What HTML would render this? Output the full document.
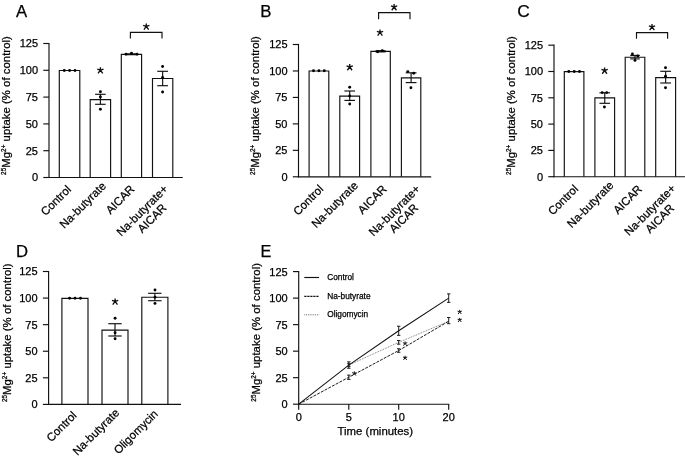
<!DOCTYPE html>
<html><head><meta charset="utf-8"><title>Figure</title>
<style>
html,body{margin:0;padding:0;background:#fff;}
body{width:685px;height:460px;overflow:hidden;}
svg{display:block;font-family:"Liberation Sans", sans-serif;fill:#000;will-change:transform;transform:translateZ(0);}
text{stroke:#000;stroke-width:0.25px;}
</style></head><body>
<svg width="685" height="460" viewBox="0 0 685 460">
<rect x="0" y="0" width="685" height="460" fill="#fff"/>
<text x="15.90" y="16.90" font-size="16.7" text-anchor="start" >A</text>
<text x="10.00" y="105.50" font-size="11.3" letter-spacing="0.05" text-anchor="middle" transform="rotate(-90 10.00 105.50)"><tspan font-size="6.33" dy="-4.07">25</tspan><tspan dy="4.07">Mg</tspan><tspan font-size="6.33" dy="-4.07">2+</tspan><tspan dy="4.07"> uptake (% of control)</tspan></text>
<path d="M59.30 177.50V70.50H79.80V177.50" fill="#fff" stroke="#111" stroke-width="1.15"/>
<path d="M90.20 177.50V99.60H110.60V177.50" fill="#fff" stroke="#111" stroke-width="1.15"/>
<path d="M121.30 177.50V54.30H141.60V177.50" fill="#fff" stroke="#111" stroke-width="1.15"/>
<path d="M152.50 177.50V78.50H172.80V177.50" fill="#fff" stroke="#111" stroke-width="1.15"/>
<line x1="49.00" y1="42.92" x2="49.00" y2="178.07" stroke="#111" stroke-width="1.15" />
<line x1="43.30" y1="177.50" x2="49.00" y2="177.50" stroke="#111" stroke-width="1.15" />
<text x="38.00" y="181.46" font-size="11" text-anchor="end" >0</text>
<line x1="43.30" y1="150.70" x2="49.00" y2="150.70" stroke="#111" stroke-width="1.15" />
<text x="38.00" y="154.66" font-size="11" text-anchor="end" >25</text>
<line x1="43.30" y1="123.90" x2="49.00" y2="123.90" stroke="#111" stroke-width="1.15" />
<text x="38.00" y="127.86" font-size="11" text-anchor="end" >50</text>
<line x1="43.30" y1="97.10" x2="49.00" y2="97.10" stroke="#111" stroke-width="1.15" />
<text x="38.00" y="101.06" font-size="11" text-anchor="end" >75</text>
<line x1="43.30" y1="70.30" x2="49.00" y2="70.30" stroke="#111" stroke-width="1.15" />
<text x="38.00" y="74.26" font-size="11" text-anchor="end" >100</text>
<line x1="43.30" y1="43.50" x2="49.00" y2="43.50" stroke="#111" stroke-width="1.15" />
<text x="38.00" y="47.46" font-size="11" text-anchor="end" >125</text>
<line x1="48.42" y1="177.50" x2="182.75" y2="177.50" stroke="#111" stroke-width="1.15" />
<circle cx="64.30" cy="70.50" r="1.45" fill="#000"/>
<circle cx="69.60" cy="70.50" r="1.45" fill="#000"/>
<circle cx="75.00" cy="70.50" r="1.45" fill="#000"/>
<line x1="100.40" y1="94.30" x2="100.40" y2="104.30" stroke="#111" stroke-width="1.15" />
<line x1="95.10" y1="94.30" x2="105.70" y2="94.30" stroke="#111" stroke-width="1.15" />
<line x1="95.10" y1="104.30" x2="105.70" y2="104.30" stroke="#111" stroke-width="1.15" />
<circle cx="100.40" cy="91.70" r="1.45" fill="#000"/>
<circle cx="100.40" cy="97.00" r="1.45" fill="#000"/>
<circle cx="100.40" cy="109.30" r="1.45" fill="#000"/>
<line x1="126.95" y1="53.90" x2="135.95" y2="53.90" stroke="#111" stroke-width="1.15" />
<line x1="126.95" y1="54.70" x2="135.95" y2="54.70" stroke="#111" stroke-width="1.15" />
<circle cx="126.00" cy="54.20" r="1.45" fill="#000"/>
<circle cx="131.50" cy="53.20" r="1.45" fill="#000"/>
<circle cx="137.00" cy="54.20" r="1.45" fill="#000"/>
<line x1="162.65" y1="71.30" x2="162.65" y2="85.70" stroke="#111" stroke-width="1.15" />
<line x1="157.25" y1="71.30" x2="168.05" y2="71.30" stroke="#111" stroke-width="1.15" />
<line x1="157.25" y1="85.70" x2="168.05" y2="85.70" stroke="#111" stroke-width="1.15" />
<circle cx="162.60" cy="66.50" r="1.45" fill="#000"/>
<circle cx="162.60" cy="77.50" r="1.45" fill="#000"/>
<circle cx="162.60" cy="92.00" r="1.45" fill="#000"/>
<text x="71.75" y="190.10" font-size="11.5" text-anchor="end" transform="rotate(-45 71.75 190.10)" >Control</text>
<text x="106.80" y="186.60" font-size="11.5" text-anchor="end" transform="rotate(-45 106.80 186.60)" >Na-butyrate</text>
<text x="135.25" y="189.80" font-size="11.5" text-anchor="end" transform="rotate(-45 135.25 189.80)" >AICAR</text>
<text x="168.55" y="189.60" font-size="11.5" text-anchor="end" transform="rotate(-45 168.55 189.60)" >Na-butyrate+</text>
<text x="154.80" y="221.00" font-size="11.5" text-anchor="middle" transform="rotate(-45 154.80 221.00)" >AICAR</text>
<path d="M100.40 70.20L100.40 67.30M100.40 70.20L103.54 69.18M100.40 70.20L97.26 69.18M100.40 70.20L102.75 73.44M100.40 70.20L98.05 73.44" stroke="#111" stroke-width="1.35" fill="none"/>
<polyline points="130.40,38.60 130.40,32.40 162.00,32.40 162.00,38.60" fill="none" stroke="#111" stroke-width="1.15"/>
<path d="M146.30 26.30L146.30 23.40M146.30 26.30L149.44 25.28M146.30 26.30L143.16 25.28M146.30 26.30L148.65 29.54M146.30 26.30L143.95 29.54" stroke="#111" stroke-width="1.35" fill="none"/>
<text x="260.20" y="16.90" font-size="16.8" text-anchor="start" >B</text>
<text x="259.20" y="105.50" font-size="11.3" letter-spacing="0.05" text-anchor="middle" transform="rotate(-90 259.20 105.50)"><tspan font-size="6.33" dy="-4.07">25</tspan><tspan dy="4.07">Mg</tspan><tspan font-size="6.33" dy="-4.07">2+</tspan><tspan dy="4.07"> uptake (% of control)</tspan></text>
<path d="M309.10 176.80V71.00H328.80V176.80" fill="#fff" stroke="#111" stroke-width="1.15"/>
<path d="M339.80 176.80V96.10H359.60V176.80" fill="#fff" stroke="#111" stroke-width="1.15"/>
<path d="M370.90 176.80V51.30H390.30V176.80" fill="#fff" stroke="#111" stroke-width="1.15"/>
<path d="M401.40 176.80V77.80H420.80V176.80" fill="#fff" stroke="#111" stroke-width="1.15"/>
<line x1="298.50" y1="43.92" x2="298.50" y2="177.38" stroke="#111" stroke-width="1.15" />
<line x1="292.80" y1="176.80" x2="298.50" y2="176.80" stroke="#111" stroke-width="1.15" />
<text x="287.50" y="180.76" font-size="11" text-anchor="end" >0</text>
<line x1="292.80" y1="150.34" x2="298.50" y2="150.34" stroke="#111" stroke-width="1.15" />
<text x="287.50" y="154.30" font-size="11" text-anchor="end" >25</text>
<line x1="292.80" y1="123.88" x2="298.50" y2="123.88" stroke="#111" stroke-width="1.15" />
<text x="287.50" y="127.84" font-size="11" text-anchor="end" >50</text>
<line x1="292.80" y1="97.42" x2="298.50" y2="97.42" stroke="#111" stroke-width="1.15" />
<text x="287.50" y="101.38" font-size="11" text-anchor="end" >75</text>
<line x1="292.80" y1="70.96" x2="298.50" y2="70.96" stroke="#111" stroke-width="1.15" />
<text x="287.50" y="74.92" font-size="11" text-anchor="end" >100</text>
<line x1="292.80" y1="44.50" x2="298.50" y2="44.50" stroke="#111" stroke-width="1.15" />
<text x="287.50" y="48.46" font-size="11" text-anchor="end" >125</text>
<line x1="297.93" y1="176.80" x2="431.20" y2="176.80" stroke="#111" stroke-width="1.15" />
<circle cx="313.50" cy="70.80" r="1.45" fill="#000"/>
<circle cx="318.90" cy="70.80" r="1.45" fill="#000"/>
<circle cx="324.30" cy="70.80" r="1.45" fill="#000"/>
<line x1="349.70" y1="91.00" x2="349.70" y2="100.40" stroke="#111" stroke-width="1.15" />
<line x1="344.40" y1="91.00" x2="355.00" y2="91.00" stroke="#111" stroke-width="1.15" />
<line x1="344.40" y1="100.40" x2="355.00" y2="100.40" stroke="#111" stroke-width="1.15" />
<circle cx="349.70" cy="87.20" r="1.45" fill="#000"/>
<circle cx="349.70" cy="96.00" r="1.45" fill="#000"/>
<circle cx="349.70" cy="104.00" r="1.45" fill="#000"/>
<line x1="375.60" y1="50.70" x2="385.60" y2="50.70" stroke="#111" stroke-width="1.15" />
<line x1="375.60" y1="51.90" x2="385.60" y2="51.90" stroke="#111" stroke-width="1.15" />
<circle cx="377.60" cy="51.80" r="1.45" fill="#000"/>
<circle cx="382.30" cy="50.60" r="1.45" fill="#000"/>
<line x1="411.10" y1="72.80" x2="411.10" y2="82.60" stroke="#111" stroke-width="1.15" />
<line x1="405.70" y1="72.80" x2="416.50" y2="72.80" stroke="#111" stroke-width="1.15" />
<line x1="405.70" y1="82.60" x2="416.50" y2="82.60" stroke="#111" stroke-width="1.15" />
<circle cx="407.80" cy="71.60" r="1.45" fill="#000"/>
<circle cx="413.70" cy="73.20" r="1.45" fill="#000"/>
<circle cx="410.90" cy="87.80" r="1.45" fill="#000"/>
<text x="324.15" y="189.80" font-size="11.5" text-anchor="end" transform="rotate(-45 324.15 189.80)" >Control</text>
<text x="358.70" y="186.10" font-size="11.5" text-anchor="end" transform="rotate(-45 358.70 186.10)" >Na-butyrate</text>
<text x="387.40" y="189.80" font-size="11.5" text-anchor="end" transform="rotate(-45 387.40 189.80)" >AICAR</text>
<text x="420.80" y="189.60" font-size="11.5" text-anchor="end" transform="rotate(-45 420.80 189.60)" >Na-butyrate+</text>
<text x="406.55" y="221.00" font-size="11.5" text-anchor="middle" transform="rotate(-45 406.55 221.00)" >AICAR</text>
<path d="M349.70 67.00L349.70 64.10M349.70 67.00L352.84 65.98M349.70 67.00L346.56 65.98M349.70 67.00L352.05 70.24M349.70 67.00L347.35 70.24" stroke="#111" stroke-width="1.35" fill="none"/>
<path d="M380.00 32.40L380.00 29.50M380.00 32.40L383.14 31.38M380.00 32.40L376.86 31.38M380.00 32.40L382.35 35.64M380.00 32.40L377.65 35.64" stroke="#111" stroke-width="1.35" fill="none"/>
<polyline points="378.60,19.20 378.60,12.60 410.00,12.60 410.00,19.20" fill="none" stroke="#111" stroke-width="1.15"/>
<path d="M394.10 7.00L394.10 4.10M394.10 7.00L397.24 5.98M394.10 7.00L390.96 5.98M394.10 7.00L396.45 10.24M394.10 7.00L391.75 10.24" stroke="#111" stroke-width="1.35" fill="none"/>
<text x="517.20" y="17.10" font-size="17.4" text-anchor="start" >C</text>
<text x="515.20" y="105.50" font-size="11.3" letter-spacing="0.05" text-anchor="middle" transform="rotate(-90 515.20 105.50)"><tspan font-size="6.33" dy="-4.07">25</tspan><tspan dy="4.07">Mg</tspan><tspan font-size="6.33" dy="-4.07">2+</tspan><tspan dy="4.07"> uptake (% of control)</tspan></text>
<path d="M564.30 176.70V71.60H583.90V176.70" fill="#fff" stroke="#111" stroke-width="1.15"/>
<path d="M594.90 176.70V97.80H614.60V176.70" fill="#fff" stroke="#111" stroke-width="1.15"/>
<path d="M625.20 176.70V57.20H644.80V176.70" fill="#fff" stroke="#111" stroke-width="1.15"/>
<path d="M655.70 176.70V77.60H675.60V176.70" fill="#fff" stroke="#111" stroke-width="1.15"/>
<line x1="554.00" y1="44.62" x2="554.00" y2="177.27" stroke="#111" stroke-width="1.15" />
<line x1="548.30" y1="176.70" x2="554.00" y2="176.70" stroke="#111" stroke-width="1.15" />
<text x="543.00" y="180.66" font-size="11" text-anchor="end" >0</text>
<line x1="548.30" y1="150.40" x2="554.00" y2="150.40" stroke="#111" stroke-width="1.15" />
<text x="543.00" y="154.36" font-size="11" text-anchor="end" >25</text>
<line x1="548.30" y1="124.10" x2="554.00" y2="124.10" stroke="#111" stroke-width="1.15" />
<text x="543.00" y="128.06" font-size="11" text-anchor="end" >50</text>
<line x1="548.30" y1="97.80" x2="554.00" y2="97.80" stroke="#111" stroke-width="1.15" />
<text x="543.00" y="101.76" font-size="11" text-anchor="end" >75</text>
<line x1="548.30" y1="71.50" x2="554.00" y2="71.50" stroke="#111" stroke-width="1.15" />
<text x="543.00" y="75.46" font-size="11" text-anchor="end" >100</text>
<line x1="548.30" y1="45.20" x2="554.00" y2="45.20" stroke="#111" stroke-width="1.15" />
<text x="543.00" y="49.16" font-size="11" text-anchor="end" >125</text>
<line x1="553.42" y1="176.70" x2="685.00" y2="176.70" stroke="#111" stroke-width="1.15" />
<circle cx="568.80" cy="71.50" r="1.45" fill="#000"/>
<circle cx="574.20" cy="71.50" r="1.45" fill="#000"/>
<circle cx="579.50" cy="71.50" r="1.45" fill="#000"/>
<line x1="604.75" y1="92.80" x2="604.75" y2="103.30" stroke="#111" stroke-width="1.15" />
<line x1="599.45" y1="92.80" x2="610.05" y2="92.80" stroke="#111" stroke-width="1.15" />
<line x1="599.45" y1="103.30" x2="610.05" y2="103.30" stroke="#111" stroke-width="1.15" />
<circle cx="602.20" cy="92.60" r="1.45" fill="#000"/>
<circle cx="606.70" cy="92.60" r="1.45" fill="#000"/>
<circle cx="604.40" cy="107.00" r="1.45" fill="#000"/>
<line x1="635.00" y1="55.40" x2="635.00" y2="58.90" stroke="#111" stroke-width="1.15" />
<line x1="630.20" y1="55.40" x2="639.80" y2="55.40" stroke="#111" stroke-width="1.15" />
<line x1="630.20" y1="58.90" x2="639.80" y2="58.90" stroke="#111" stroke-width="1.15" />
<circle cx="632.40" cy="53.90" r="1.45" fill="#000"/>
<circle cx="637.80" cy="56.00" r="1.45" fill="#000"/>
<circle cx="635.00" cy="60.40" r="1.45" fill="#000"/>
<line x1="665.65" y1="71.30" x2="665.65" y2="83.00" stroke="#111" stroke-width="1.15" />
<line x1="660.25" y1="71.30" x2="671.05" y2="71.30" stroke="#111" stroke-width="1.15" />
<line x1="660.25" y1="83.00" x2="671.05" y2="83.00" stroke="#111" stroke-width="1.15" />
<circle cx="665.50" cy="67.80" r="1.45" fill="#000"/>
<circle cx="665.50" cy="76.30" r="1.45" fill="#000"/>
<circle cx="665.50" cy="87.80" r="1.45" fill="#000"/>
<text x="578.95" y="189.60" font-size="11.5" text-anchor="end" transform="rotate(-45 578.95 189.60)" >Control</text>
<text x="614.35" y="186.00" font-size="11.5" text-anchor="end" transform="rotate(-45 614.35 186.00)" >Na-butyrate</text>
<text x="642.75" y="189.80" font-size="11.5" text-anchor="end" transform="rotate(-45 642.75 189.80)" >AICAR</text>
<text x="676.35" y="189.10" font-size="11.5" text-anchor="end" transform="rotate(-45 676.35 189.10)" >Na-butyrate+</text>
<text x="662.50" y="221.40" font-size="11.5" text-anchor="middle" transform="rotate(-45 662.50 221.40)" >AICAR</text>
<path d="M604.60 70.50L604.60 67.60M604.60 70.50L607.74 69.48M604.60 70.50L601.46 69.48M604.60 70.50L606.95 73.74M604.60 70.50L602.25 73.74" stroke="#111" stroke-width="1.35" fill="none"/>
<polyline points="636.50,38.70 636.50,32.60 667.60,32.60 667.60,38.70" fill="none" stroke="#111" stroke-width="1.15"/>
<path d="M652.00 26.80L652.00 23.90M652.00 26.80L655.14 25.78M652.00 26.80L648.86 25.78M652.00 26.80L654.35 30.04M652.00 26.80L649.65 30.04" stroke="#111" stroke-width="1.35" fill="none"/>
<text x="15.90" y="257.40" font-size="16.7" text-anchor="start" >D</text>
<text x="11.50" y="332.70" font-size="11.3" letter-spacing="0.05" text-anchor="middle" transform="rotate(-90 11.50 332.70)"><tspan font-size="6.33" dy="-4.07">25</tspan><tspan dy="4.07">Mg</tspan><tspan font-size="6.33" dy="-4.07">2+</tspan><tspan dy="4.07"> uptake (% of control)</tspan></text>
<path d="M61.90 404.40V298.30H88.00V404.40" fill="#fff" stroke="#111" stroke-width="1.15"/>
<path d="M102.00 404.40V330.10H128.00V404.40" fill="#fff" stroke="#111" stroke-width="1.15"/>
<path d="M141.80 404.40V297.20H167.90V404.40" fill="#fff" stroke="#111" stroke-width="1.15"/>
<line x1="48.60" y1="270.93" x2="48.60" y2="404.97" stroke="#111" stroke-width="1.15" />
<line x1="42.90" y1="404.40" x2="48.60" y2="404.40" stroke="#111" stroke-width="1.15" />
<text x="37.60" y="408.36" font-size="11" text-anchor="end" >0</text>
<line x1="42.90" y1="377.82" x2="48.60" y2="377.82" stroke="#111" stroke-width="1.15" />
<text x="37.60" y="381.78" font-size="11" text-anchor="end" >25</text>
<line x1="42.90" y1="351.24" x2="48.60" y2="351.24" stroke="#111" stroke-width="1.15" />
<text x="37.60" y="355.20" font-size="11" text-anchor="end" >50</text>
<line x1="42.90" y1="324.66" x2="48.60" y2="324.66" stroke="#111" stroke-width="1.15" />
<text x="37.60" y="328.62" font-size="11" text-anchor="end" >75</text>
<line x1="42.90" y1="298.08" x2="48.60" y2="298.08" stroke="#111" stroke-width="1.15" />
<text x="37.60" y="302.04" font-size="11" text-anchor="end" >100</text>
<line x1="42.90" y1="271.50" x2="48.60" y2="271.50" stroke="#111" stroke-width="1.15" />
<text x="37.60" y="275.46" font-size="11" text-anchor="end" >125</text>
<line x1="48.02" y1="404.40" x2="181.00" y2="404.40" stroke="#111" stroke-width="1.15" />
<circle cx="69.60" cy="298.30" r="1.45" fill="#000"/>
<circle cx="75.00" cy="298.30" r="1.45" fill="#000"/>
<circle cx="80.50" cy="298.30" r="1.45" fill="#000"/>
<line x1="115.00" y1="323.70" x2="115.00" y2="336.00" stroke="#111" stroke-width="1.15" />
<line x1="108.30" y1="323.70" x2="121.70" y2="323.70" stroke="#111" stroke-width="1.15" />
<line x1="108.30" y1="336.00" x2="121.70" y2="336.00" stroke="#111" stroke-width="1.15" />
<circle cx="115.10" cy="318.20" r="1.45" fill="#000"/>
<circle cx="115.10" cy="332.70" r="1.45" fill="#000"/>
<circle cx="115.10" cy="338.80" r="1.45" fill="#000"/>
<line x1="154.85" y1="293.30" x2="154.85" y2="300.70" stroke="#111" stroke-width="1.15" />
<line x1="148.15" y1="293.30" x2="161.55" y2="293.30" stroke="#111" stroke-width="1.15" />
<line x1="148.15" y1="300.70" x2="161.55" y2="300.70" stroke="#111" stroke-width="1.15" />
<circle cx="155.00" cy="290.00" r="1.45" fill="#000"/>
<circle cx="155.00" cy="297.20" r="1.45" fill="#000"/>
<circle cx="155.00" cy="303.40" r="1.45" fill="#000"/>
<text x="77.45" y="416.20" font-size="11.5" text-anchor="end" transform="rotate(-45 77.45 416.20)" >Control</text>
<text x="120.00" y="413.40" font-size="11.5" text-anchor="end" transform="rotate(-45 120.00 413.40)" >Na-butyrate</text>
<text x="158.65" y="414.60" font-size="11.5" text-anchor="end" transform="rotate(-45 158.65 414.60)" >Oligomycin</text>
<path d="M115.10 301.40L115.10 298.50M115.10 301.40L118.24 300.38M115.10 301.40L111.96 300.38M115.10 301.40L117.45 304.64M115.10 301.40L112.75 304.64" stroke="#111" stroke-width="1.35" fill="none"/>
<text x="260.40" y="257.40" font-size="16.3" text-anchor="start" >E</text>
<text x="260.20" y="332.30" font-size="11.3" letter-spacing="0.05" text-anchor="middle" transform="rotate(-90 260.20 332.30)"><tspan font-size="6.33" dy="-4.07">25</tspan><tspan dy="4.07">Mg</tspan><tspan font-size="6.33" dy="-4.07">2+</tspan><tspan dy="4.07"> uptake (% of control)</tspan></text>
<line x1="298.70" y1="271.03" x2="298.70" y2="404.77" stroke="#111" stroke-width="1.15" />
<line x1="293.00" y1="404.20" x2="298.70" y2="404.20" stroke="#111" stroke-width="1.15" />
<text x="287.70" y="408.16" font-size="11" text-anchor="end" >0</text>
<line x1="293.00" y1="377.68" x2="298.70" y2="377.68" stroke="#111" stroke-width="1.15" />
<text x="287.70" y="381.64" font-size="11" text-anchor="end" >25</text>
<line x1="293.00" y1="351.16" x2="298.70" y2="351.16" stroke="#111" stroke-width="1.15" />
<text x="287.70" y="355.12" font-size="11" text-anchor="end" >50</text>
<line x1="293.00" y1="324.64" x2="298.70" y2="324.64" stroke="#111" stroke-width="1.15" />
<text x="287.70" y="328.60" font-size="11" text-anchor="end" >75</text>
<line x1="293.00" y1="298.12" x2="298.70" y2="298.12" stroke="#111" stroke-width="1.15" />
<text x="287.70" y="302.08" font-size="11" text-anchor="end" >100</text>
<line x1="293.00" y1="271.60" x2="298.70" y2="271.60" stroke="#111" stroke-width="1.15" />
<text x="287.70" y="275.56" font-size="11" text-anchor="end" >125</text>
<line x1="298.12" y1="404.20" x2="449.27" y2="404.20" stroke="#111" stroke-width="1.15" />
<line x1="298.70" y1="404.20" x2="298.70" y2="409.70" stroke="#111" stroke-width="1.15" />
<text x="298.70" y="421.20" font-size="11" text-anchor="middle" >0</text>
<line x1="348.80" y1="404.20" x2="348.80" y2="409.70" stroke="#111" stroke-width="1.15" />
<text x="348.80" y="421.20" font-size="11" text-anchor="middle" >5</text>
<line x1="398.70" y1="404.20" x2="398.70" y2="409.70" stroke="#111" stroke-width="1.15" />
<text x="398.70" y="421.20" font-size="11" text-anchor="middle" >10</text>
<line x1="448.70" y1="404.20" x2="448.70" y2="409.70" stroke="#111" stroke-width="1.15" />
<text x="448.70" y="421.20" font-size="11" text-anchor="middle" >20</text>
<text x="375.30" y="435.40" font-size="11.4" text-anchor="middle" >Time (minutes)</text>
<polyline points="348.80,365.06 398.70,342.36 448.70,321.25" fill="none" stroke="#555" stroke-width="0.8" stroke-dasharray="0.9 0.9"/>
<polyline points="298.70,404.20 348.80,365.06 398.70,330.79 448.70,298.12" fill="none" stroke="#111" stroke-width="1.05" />
<polyline points="298.70,404.20 348.80,377.26 398.70,350.52 448.70,321.25" fill="none" stroke="#111" stroke-width="0.95" stroke-dasharray="3.0 1.2"/>
<line x1="348.80" y1="361.87" x2="348.80" y2="368.24" stroke="#111" stroke-width="0.95" />
<line x1="347.10" y1="361.87" x2="350.50" y2="361.87" stroke="#111" stroke-width="0.95" />
<line x1="347.10" y1="368.24" x2="350.50" y2="368.24" stroke="#111" stroke-width="0.95" />
<line x1="398.70" y1="326.23" x2="398.70" y2="335.35" stroke="#111" stroke-width="0.95" />
<line x1="397.00" y1="326.23" x2="400.40" y2="326.23" stroke="#111" stroke-width="0.95" />
<line x1="397.00" y1="335.35" x2="400.40" y2="335.35" stroke="#111" stroke-width="0.95" />
<line x1="448.70" y1="293.88" x2="448.70" y2="302.36" stroke="#111" stroke-width="0.95" />
<line x1="447.00" y1="293.88" x2="450.40" y2="293.88" stroke="#111" stroke-width="0.95" />
<line x1="447.00" y1="302.36" x2="450.40" y2="302.36" stroke="#111" stroke-width="0.95" />
<line x1="348.80" y1="375.13" x2="348.80" y2="379.38" stroke="#111" stroke-width="0.95" />
<line x1="347.10" y1="375.13" x2="350.50" y2="375.13" stroke="#111" stroke-width="0.95" />
<line x1="347.10" y1="379.38" x2="350.50" y2="379.38" stroke="#111" stroke-width="0.95" />
<line x1="398.70" y1="348.77" x2="398.70" y2="352.27" stroke="#111" stroke-width="0.95" />
<line x1="397.00" y1="348.77" x2="400.40" y2="348.77" stroke="#111" stroke-width="0.95" />
<line x1="397.00" y1="352.27" x2="400.40" y2="352.27" stroke="#111" stroke-width="0.95" />
<line x1="448.70" y1="317.53" x2="448.70" y2="323.69" stroke="#111" stroke-width="0.95" />
<line x1="447.00" y1="317.53" x2="450.40" y2="317.53" stroke="#111" stroke-width="0.95" />
<line x1="447.00" y1="323.69" x2="450.40" y2="323.69" stroke="#111" stroke-width="0.95" />
<line x1="398.70" y1="340.55" x2="398.70" y2="344.16" stroke="#111" stroke-width="0.95" />
<line x1="397.00" y1="340.55" x2="400.40" y2="340.55" stroke="#111" stroke-width="0.95" />
<line x1="397.00" y1="344.16" x2="400.40" y2="344.16" stroke="#111" stroke-width="0.95" />
<line x1="348.80" y1="363.78" x2="348.80" y2="366.33" stroke="#111" stroke-width="0.95" />
<line x1="347.10" y1="363.78" x2="350.50" y2="363.78" stroke="#111" stroke-width="0.95" />
<line x1="347.10" y1="366.33" x2="350.50" y2="366.33" stroke="#111" stroke-width="0.95" />
<path d="M354.30 373.30L354.30 371.33M354.30 373.30L356.43 372.61M354.30 373.30L352.17 372.61M354.30 373.30L355.90 375.50M354.30 373.30L352.70 375.50" stroke="#111" stroke-width="1.0" fill="none"/>
<path d="M405.10 343.40L405.10 341.43M405.10 343.40L407.23 342.71M405.10 343.40L402.97 342.71M405.10 343.40L406.70 345.60M405.10 343.40L403.50 345.60" stroke="#111" stroke-width="1.0" fill="none"/>
<path d="M405.10 357.70L405.10 355.73M405.10 357.70L407.23 357.01M405.10 357.70L402.97 357.01M405.10 357.70L406.70 359.90M405.10 357.70L403.50 359.90" stroke="#111" stroke-width="1.0" fill="none"/>
<path d="M459.70 311.80L459.70 309.83M459.70 311.80L461.83 311.11M459.70 311.80L457.57 311.11M459.70 311.80L461.30 314.00M459.70 311.80L458.10 314.00" stroke="#111" stroke-width="1.0" fill="none"/>
<path d="M459.70 319.80L459.70 317.83M459.70 319.80L461.83 319.11M459.70 319.80L457.57 319.11M459.70 319.80L461.30 322.00M459.70 319.80L458.10 322.00" stroke="#111" stroke-width="1.0" fill="none"/>
<line x1="304.30" y1="277.50" x2="319.10" y2="277.50" stroke="#111" stroke-width="1.15" />
<line x1="304.30" y1="296.30" x2="319.10" y2="296.30" stroke="#111" stroke-width="1.15" stroke-dasharray="2.2 0.8"/>
<line x1="304.30" y1="314.80" x2="319.10" y2="314.80" stroke="#555" stroke-width="0.9" stroke-dasharray="0.9 0.9"/>
<text x="327.20" y="279.80" font-size="8.3" text-anchor="start" >Control</text>
<text x="327.20" y="298.80" font-size="8.3" text-anchor="start" >Na-butyrate</text>
<text x="327.20" y="316.90" font-size="8.3" text-anchor="start" >Oligomycin</text>
</svg>
</body></html>
